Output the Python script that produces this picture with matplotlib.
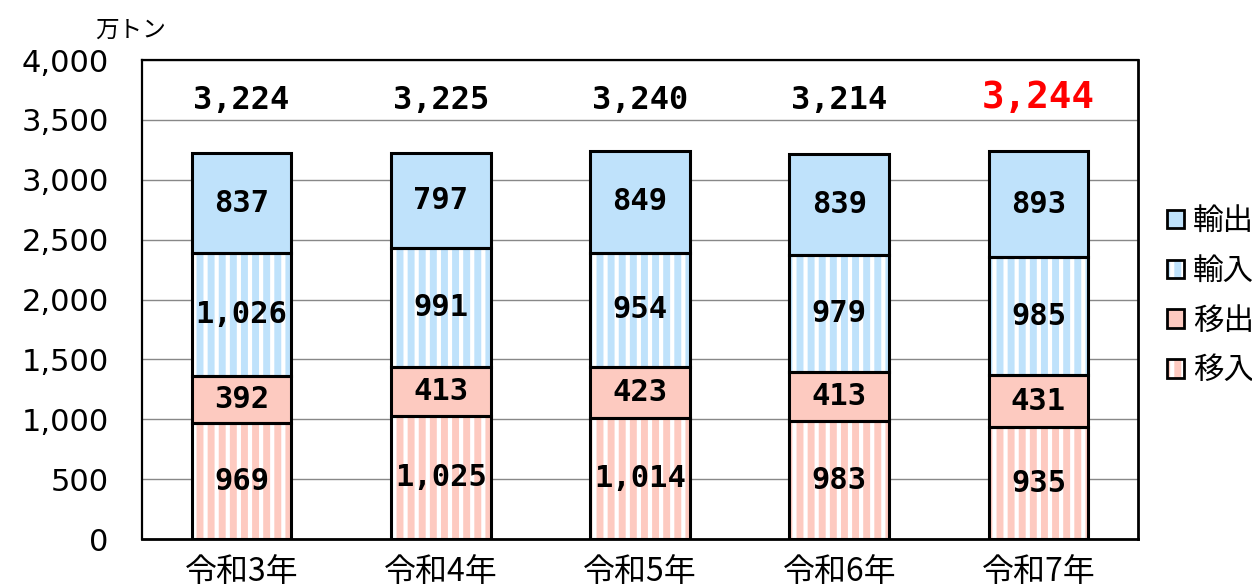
import matplotlib
matplotlib.use("Agg")
import matplotlib.pyplot as plt
from matplotlib.patches import Patch
import numpy as np

plt.rcParams['font.family'] = ['Noto Sans CJK JP', 'DejaVu Sans']
plt.rcParams['hatch.linewidth'] = 1.5

# data (万トン)
years = ["令和3年", "令和4年", "令和5年", "令和6年", "令和7年"]
inyu_domestic = [969, 1025, 1014, 983, 935]     # 移入
out_domestic = [392, 413, 423, 413, 431]        # 移出
imports = [1026, 991, 954, 979, 985]            # 輸入
exports = [837, 797, 849, 839, 893]             # 輸出
totals = [3224, 3225, 3240, 3214, 3244]

blue = '#BFE2FB'
pink = '#FDCAC0'
numfont = 'DejaVu Sans Mono'

series = [
    ("移入", inyu_domestic, pink, '|||'),
    ("移出", out_domestic, pink, None),
    ("輸入", imports, blue, '|||'),
    ("輸出", exports, blue, None),
]

fig = plt.figure(figsize=(6.26, 2.925), dpi=200)
ax = fig.add_axes([0.1134, 0.0786, 0.7956, 0.8188])

x = np.arange(len(years))
w = 0.5
bottom = np.zeros(len(years))
handles = {}
for name, vals, col, hatch in series:
    vals = np.array(vals)
    if hatch:
        ax.bar(x, vals, w, bottom=bottom, color=col, edgecolor='white',
               hatch=hatch, linewidth=0, zorder=3)
    else:
        ax.bar(x, vals, w, bottom=bottom, color=col, linewidth=0, zorder=3)
    ax.bar(x, vals, w, bottom=bottom, fill=False, edgecolor='black',
           linewidth=1.1, zorder=4)
    for xi, b, v in zip(x, bottom, vals):
        ax.text(xi, b + v / 2, f"{v:,}", ha='center', va='center',
                fontsize=11, fontweight='bold', family=numfont, zorder=5)
    fh = Patch(facecolor=col, edgecolor='white' if hatch else col,
               hatch=hatch, linewidth=0)
    oh = Patch(facecolor='none', edgecolor='black', linewidth=1.0)
    handles[name] = (fh, oh)
    bottom = bottom + vals

for i, t in enumerate(totals):
    if i == len(totals) - 1:
        ax.text(x[i], 3680, f"{t:,}", ha='center', va='center', family=numfont,
                fontsize=13.5, fontweight='bold', color='#FF0000')
    else:
        ax.text(x[i], 3660, f"{t:,}", ha='center', va='center', family=numfont,
                fontsize=11.5, fontweight='bold', color='black')

ax.set_xlim(-0.5, len(years) - 0.5)
ax.set_ylim(0, 4000)
ax.set_yticks(np.arange(0, 4001, 500))
ax.set_yticklabels([f"{v:,}" for v in range(0, 4001, 500)], fontsize=11,
                   family='DejaVu Sans')
ax.set_xticks(x)
ax.set_xticklabels(years, fontsize=11.5)
ax.tick_params(axis='x', length=0, pad=6)
ax.tick_params(axis='y', length=0, pad=12)
ax.grid(axis='y', color='#888888', linewidth=0.5, zorder=0)
ax.set_axisbelow(True)
for s in ax.spines.values():
    s.set_linewidth(0.8)
    s.set_color('black')
ax.spines['bottom'].set_linewidth(1.0)
ax.spines['right'].set_linewidth(1.0)

fig.text(0.076, 0.948, "万トン", fontsize=8.5, ha='left', va='center')

order = ["輸出", "輸入", "移出", "移入"]
leg = fig.legend([handles[n] for n in order], order, loc='center left',
                 bbox_to_anchor=(0.91, 0.494), frameon=False, fontsize=11,
                 handlelength=0.55, handleheight=0.55, handletextpad=0.3,
                 labelspacing=0.62)

fig.savefig("out.png", dpi=200)
